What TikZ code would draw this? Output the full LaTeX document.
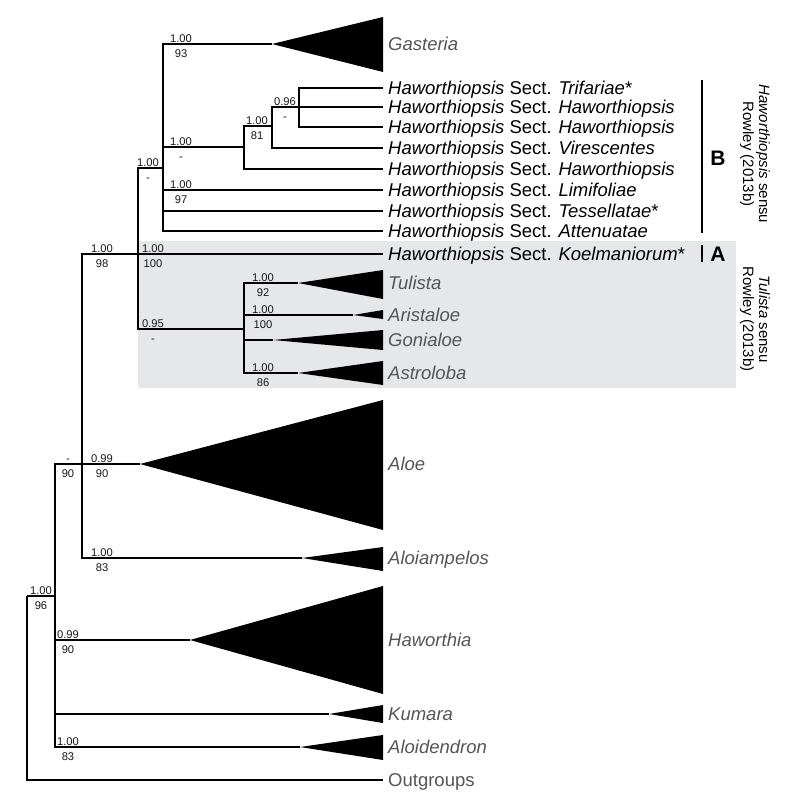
\documentclass[tikz,border=0pt]{standalone}
\usepackage{fontspec}
\setmainfont{Liberation Sans}
\usetikzlibrary{positioning}
\definecolor{boxgrey}{HTML}{E6E7E8}
\definecolor{taxgrey}{HTML}{555555}
\newcommand{\hws}[1]{\textit{Haworthiopsis} Sect. \textit{#1}}
\newcommand{\supp}[5]{%
	\node[pp] (#1a) at (#2,#3-1.5) {#4};
	\node[pp] (#1b) at (#2,#3+13.5) {#5};}
\begin{document}
\begin{tikzpicture}[x=1pt,y=-1pt,
		branch/.style={line width=2.2pt},
		hv/.style={to path={|- (\tikztotarget)}},
		leaf/.style={anchor=west,inner xsep=5pt,inner ysep=0pt,text height=13pt,text depth=0pt,font=\fontsize{18.5}{20}\selectfont},
		clade/.style={leaf,text=taxgrey,font=\fontsize{18.5}{20}\selectfont\itshape},
		pp/.style={anchor=base,inner sep=0pt,text=black!90,font=\fontsize{11.2}{12}\selectfont},
		bigl/.style={font=\fontsize{21}{24}\selectfont\bfseries},
		sensu/.style={rotate=-90,align=center,font=\fontsize{15}{16}\selectfont}]
		\useasboundingbox (0,0) rectangle (789,800);
		\fill[boxgrey] (138,241) rectangle (736,388);

		% tips
		\begin{scope}[every node/.style={leaf}]
			\node (tri) at (383,88) {\hws{Trifariae}*};
			\node (hw2) at (383,107) {\hws{Haworthiopsis}};
			\node (hw3) at (383,127) {\hws{Haworthiopsis}};
			\node (vir) at (383,148) {\hws{Virescentes}};
			\node (hw5) at (383,169) {\hws{Haworthiopsis}};
			\node (lim) at (383,190) {\hws{Limifoliae}};
			\node (tes) at (383,211) {\hws{Tessellatae}*};
			\node (att) at (383,231) {\hws{Attenuatae}};
			\node (koe) at (383,254) {\hws{Koelmaniorum}*};
		\end{scope}
		\begin{scope}[every node/.style={clade}]
			\node (gas) at (383,44) {Gasteria};
			\node (tul) at (383,283) {Tulista};
			\node (ari) at (383,315) {Aristaloe};
			\node (gon) at (383,340) {Gonialoe};
			\node (ast) at (383,373) {Astroloba};
			\node (alo) at (383,464) {Aloe};
			\node (aip) at (383,558) {Aloiampelos};
			\node (haw) at (383,640) {Haworthia};
			\node (kum) at (383,714) {Kumara};
			\node (ald) at (383,747) {Aloidendron};
			\node[font=\fontsize{18.5}{20}\selectfont] (out) at (383,780) {Outgroups};
		\end{scope}

		% collapsed clades
		\coordinate (gasA) at (272,44);
		\coordinate (tulA) at (298,283);
		\coordinate (ariA) at (353,315);
		\coordinate (gonA) at (273,340);
		\coordinate (astA) at (298,373);
		\coordinate (aloA) at (140,464);
		\coordinate (aipA) at (302,558);
		\coordinate (hawA) at (190,640);
		\coordinate (kumA) at (329,714);
		\coordinate (aldA) at (300,747);
		\fill (gasA) -- (383,17) -- (383,72) -- cycle;
		\fill (tulA) -- (383,270) -- (383,299) -- cycle;
		\fill (ariA) -- (383,310) -- (383,319) -- cycle;
		\fill (gonA) -- (383,330) -- (383,350) -- cycle;
		\fill (astA) -- (383,361) -- (383,385) -- cycle;
		\fill (aloA) -- (383,400) -- (383,530) -- cycle;
		\fill (aipA) -- (383,547) -- (383,571) -- cycle;
		\fill (hawA) -- (383,586) -- (383,694) -- cycle;
		\fill (kumA) -- (383,705) -- (383,723) -- cycle;
		\fill (aldA) -- (383,735) -- (383,760) -- cycle;

		% inner nodes
		\coordinate (r) at (27,596);
		\coordinate (n1) at (55,596);
		\coordinate (n2) at (82,464);
		\coordinate (n3) at (138,254);
		\coordinate (n4) at (163,168);
		\coordinate (n5) at (244,147);
		\coordinate (n6) at (272,126);
		\coordinate (n7) at (299,107);
		\coordinate (n8) at (244,329);

		\begin{scope}[branch]
			\path (r) edge[hv] (n1) edge[hv] (out.west);
			\path (n1) edge[hv] (n2) edge[hv] (hawA) edge[hv] (kumA) edge[hv] (aldA);
			\path (n2) edge[hv] (n3) edge[hv] (aloA) edge[hv] (aipA);
			\path (n3) edge[hv] (n4) edge[hv] (koe.west) edge[hv] (n8);
			\path (n4) edge[hv] (gasA) edge[hv] (n5) edge[hv] (lim.west) edge[hv] (tes.west) edge[hv] (att.west);
			\path (n5) edge[hv] (n6) edge[hv] (hw5.west);
			\path (n6) edge[hv] (n7) edge[hv] (vir.west);
			\path (n7) edge[hv] (tri.west) edge[hv] (hw2.west) edge[hv] (hw3.west);
			\path (n8) edge[hv] (tulA) edge[hv] (ariA) edge[hv] (gonA) edge[hv] (astA);
		\end{scope}

		% support values
		\supp{s1}{41}{596}{1.00}{96}
		\supp{s2}{68}{464}{-}{90}
		\supp{s3}{102}{464}{0.99}{90}
		\supp{s4}{102}{558}{1.00}{83}
		\supp{s5}{68}{640}{0.99}{90}
		\supp{s6}{68}{747}{1.00}{83}
		\supp{s7}{102}{254}{1.00}{98}
		\supp{s8}{153}{254}{1.00}{100}
		\supp{s9}{148}{168}{1.00}{-}
		\supp{s10}{181}{44}{1.00}{93}
		\supp{s11}{181}{147}{1.00}{-}
		\supp{s12}{181}{190}{1.00}{97}
		\supp{s13}{257}{126}{1.00}{81}
		\supp{s14}{285}{107}{0.96}{-}
		\supp{s15}{153}{329}{0.95}{-}
		\supp{s16}{263}{283}{1.00}{92}
		\supp{s17}{263}{315}{1.00}{100}
		\supp{s18}{263}{373}{1.00}{86}

		% groupings
		\draw[line width=2.5pt] (702,80) -- (702,233);
		\draw[line width=2.5pt] (702,245) -- (702,262);
		\node[bigl] (B) at (718,158) {B};
		\node[bigl] (A) at (718,254) {A};
		\node[sensu] (hsen) at (755,154) {\textit{Haworthiopsis} sensu\\Rowley (2013b)};
		\node[sensu] (tsen) at (755,319) {\textit{Tulista} sensu\\Rowley (2013b)};
	\end{tikzpicture}
\end{document}
